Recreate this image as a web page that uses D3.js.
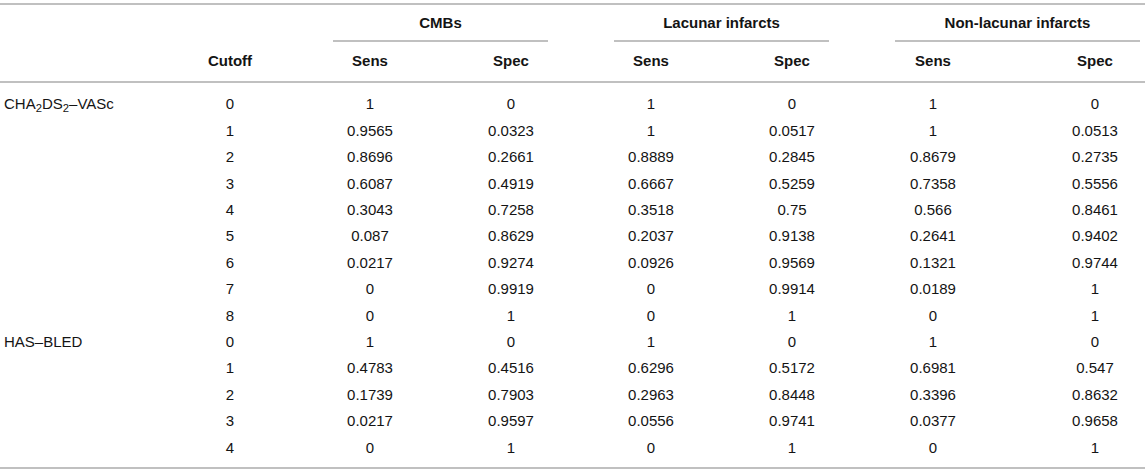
<!DOCTYPE html>
<html>
<head>
<meta charset="utf-8">
<script src="https://cdn.jsdelivr.net/npm/d3@7"></script>
<style>
  body { margin: 0; background: #fff; }
  svg text { font-family: "Liberation Sans", Arial, sans-serif; fill: #141414; }
</style>
</head>
<body>
<svg id="table"></svg>
<script>
// table content
const groups = ["CMBs", "Lacunar infarcts", "Non-lacunar infarcts"];
const subHeaders = ["Sens", "Spec"];
const scoreLabels = ["CHA_2DS_2–VASc", "HAS–BLED"];   // "_" marks a subscript digit
const scoreRowStart = [0, 9];
const cutoffs = [0, 1, 2, 3, 4, 5, 6, 7, 8, 0, 1, 2, 3, 4];

const cmbSens = [1, 0.9565, 0.8696, 0.6087, 0.3043, 0.087, 0.0217, 0, 0, 1, 0.4783, 0.1739, 0.0217, 0];
const cmbSpec = [0, 0.0323, 0.2661, 0.4919, 0.7258, 0.8629, 0.9274, 0.9919, 1, 0, 0.4516, 0.7903, 0.9597, 1];
const lacSens = [1, 1, 0.8889, 0.6667, 0.3518, 0.2037, 0.0926, 0, 0, 1, 0.6296, 0.2963, 0.0556, 0];
const lacSpec = [0, 0.0517, 0.2845, 0.5259, 0.75, 0.9138, 0.9569, 0.9914, 1, 0, 0.5172, 0.8448, 0.9741, 1];
const nonSens = [1, 1, 0.8679, 0.7358, 0.566, 0.2641, 0.1321, 0.0189, 0, 1, 0.6981, 0.3396, 0.0377, 0];
const nonSpec = [0, 0.0513, 0.2735, 0.5556, 0.8461, 0.9402, 0.9744, 1, 1, 0, 0.547, 0.8632, 0.9658, 1];

const valueCols = [cmbSens, cmbSpec, lacSens, lacSpec, nonSens, nonSpec];

const W = 1145, H = 474;
const fontSize = 15;
const ruleColor = "#ababab";

const svg = d3.select("#table")
    .attr("width", W)
    .attr("height", H);

// column centres
const colKeys = ["cutoff", "c0", "c1", "c2", "c3", "c4", "c5"];
const x = d3.scaleOrdinal()
    .domain(colKeys)
    .range([230, 370, 511, 651, 792, 933, 1095]);

// group underline spans
const groupSpan = d3.scaleOrdinal()
    .domain(groups)
    .range([[333, 548], [614, 829], [895, 1140]]);

// body rows
const y = d3.scaleLinear()
    .domain([0, cutoffs.length - 1])
    .range([104, 447.5]);

// horizontal rules
const rules = [4, 82, 468];
svg.selectAll("line.rule")
    .data(rules)
    .enter().append("line")
    .attr("class", "rule")
    .attr("x1", 0).attr("x2", W)
    .attr("y1", d => d).attr("y2", d => d)
    .attr("stroke", ruleColor)
    .attr("stroke-width", 1.6);

// group headers
svg.selectAll("text.group")
    .data(groups)
    .enter().append("text")
    .attr("class", "group")
    .attr("x", d => (groupSpan(d)[0] + groupSpan(d)[1]) / 2)
    .attr("y", 23)
    .attr("dy", "0.35em")
    .attr("text-anchor", "middle")
    .attr("font-weight", "bold")
    .attr("font-size", fontSize)
    .text(d => d);

svg.selectAll("line.span")
    .data(groups)
    .enter().append("line")
    .attr("class", "span")
    .attr("x1", d => groupSpan(d)[0])
    .attr("x2", d => groupSpan(d)[1])
    .attr("y1", 41).attr("y2", 41)
    .attr("stroke", ruleColor)
    .attr("stroke-width", 1.6);

// sub headers
const headRow = [{ key: "cutoff", text: "Cutoff" }];
valueCols.forEach((c, i) => headRow.push({ key: "c" + i, text: subHeaders[i % 2] }));

svg.selectAll("text.head")
    .data(headRow)
    .enter().append("text")
    .attr("class", "head")
    .attr("x", d => x(d.key))
    .attr("y", 61)
    .attr("dy", "0.35em")
    .attr("text-anchor", "middle")
    .attr("font-weight", "bold")
    .attr("font-size", fontSize)
    .text(d => d.text);

// score labels, with subscripts (baseline set directly, tspans shift it)
const labels = svg.selectAll("text.score")
    .data(scoreLabels)
    .enter().append("text")
    .attr("class", "score")
    .attr("x", 4)
    .attr("y", (d, i) => y(scoreRowStart[i]) + fontSize * 0.35)
    .attr("font-size", fontSize);

labels.each(function (d) {
    const t = d3.select(this);
    const parts = d.split(/(_\d)/).filter(p => p.length);
    let shifted = false;
    parts.forEach(p => {
        const span = t.append("tspan");
        if (p[0] === "_") {
            span.attr("font-size", fontSize * 0.75);
            if (!shifted) span.attr("dy", 2.5);
            span.text(p.slice(1));
            shifted = true;
        } else {
            if (shifted) span.attr("dy", -2.5);
            span.text(p);
            shifted = false;
        }
    });
});

// body cells
const cells = [];
cutoffs.forEach((c, r) => {
    cells.push({ key: "cutoff", row: r, text: String(c) });
    valueCols.forEach((col, i) => cells.push({ key: "c" + i, row: r, text: String(col[r]) }));
});

svg.selectAll("text.cell")
    .data(cells)
    .enter().append("text")
    .attr("class", "cell")
    .attr("x", d => x(d.key))
    .attr("y", d => y(d.row))
    .attr("dy", "0.35em")
    .attr("text-anchor", "middle")
    .attr("font-size", fontSize)
    .text(d => d.text);
</script>
</body>
</html>
